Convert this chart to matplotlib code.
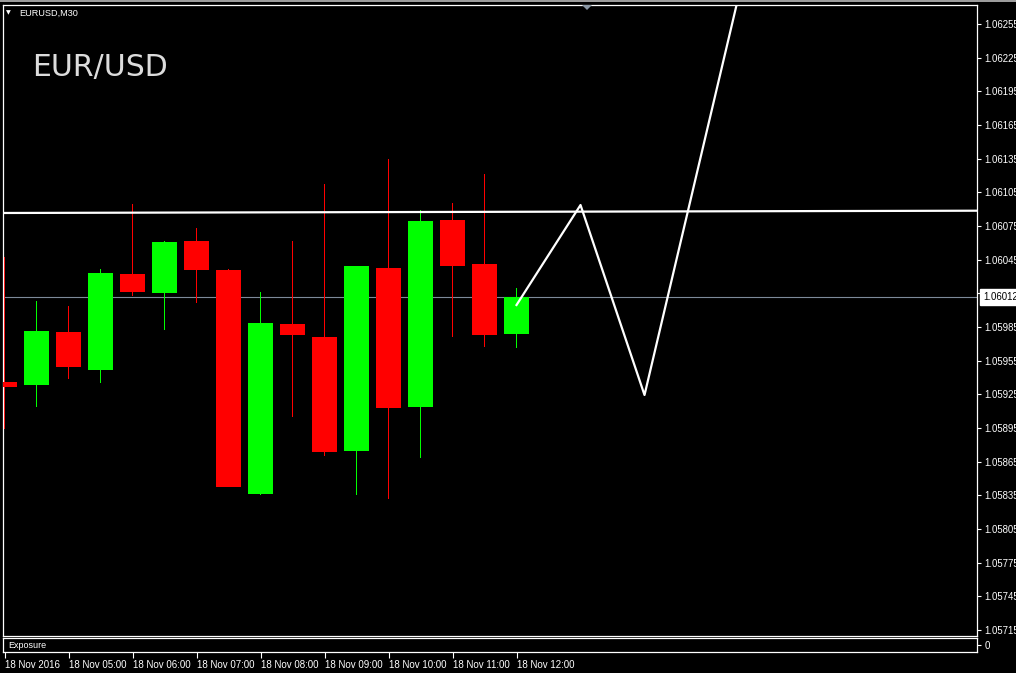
import matplotlib
matplotlib.use('Agg')
import numpy as np
import matplotlib.pyplot as plt
from matplotlib import font_manager as fm
from matplotlib.patches import Rectangle, Polygon

plt.rcParams['font.family'] = ['Liberation Sans', 'DejaVu Sans']

# EURUSD M30 candles, 18 Nov 2016 04:00 .. 12:00
opens = [1.059363, 1.059336, 1.059805, 1.059470, 1.060322, 1.060156, 1.060616, 1.060358, 1.058365,
         1.059877, 1.059761, 1.058748, 1.060376, 1.059140, 1.060803, 1.060411, 1.059790]
highs = [1.060476, 1.060082, 1.060037, 1.060367, 1.060946, 1.060616, 1.060732, 1.060367, 1.060162,
         1.060616, 1.061124, 1.060398, 1.061347, 1.060893, 1.060955, 1.061213, 1.060198]
lows = [1.058941, 1.059140, 1.059387, 1.059354, 1.060126, 1.059826, 1.060067, 1.058420, 1.058356,
        1.059051, 1.058703, 1.058356, 1.058320, 1.058685, 1.059764, 1.059674, 1.059666]
closes = [1.059315, 1.059814, 1.059496, 1.060331, 1.060165, 1.060607, 1.060361, 1.058427, 1.059886,
          1.059779, 1.058739, 1.060394, 1.059131, 1.060795, 1.060394, 1.059781, 1.060120]

# projected zigzag path (bar index, price)
zigzag_x = [16, 18, 20, 23]
zigzag_y = [1.060046, 1.060937, 1.059244, 1.062869]

# slightly sloped resistance line
trend_x = [0, 30]
trend_y = [1.060866, 1.060886]

time_ticks = [0, 2, 4, 6, 8, 10, 12, 14, 16]
time_labels = ['18 Nov 2016', '18 Nov 05:00', '18 Nov 06:00', '18 Nov 07:00', '18 Nov 08:00',
               '18 Nov 09:00', '18 Nov 10:00', '18 Nov 11:00', '18 Nov 12:00']
price_ticks = [1.05715, 1.05745, 1.05775, 1.05805, 1.05835, 1.05865, 1.05895, 1.05925, 1.05955,
               1.05985, 1.06015, 1.06045, 1.06075, 1.06105, 1.06135, 1.06165, 1.06195, 1.06225, 1.06255]

W, H = 1016, 673
fig = plt.figure(figsize=(W / 100, H / 100), dpi=100, facecolor='black')


def fx(px):
    return px / W


def fy(py):
    return 1 - py / H


xlim = (-0.047, 30.39)

ax = fig.add_axes([fx(3), fy(636), fx(977) - fx(3), fy(5) - fy(636)])
ax.set_facecolor('black')
ax.set_xlim(*xlim)
ax.set_ylim(1.0570965, 1.0627193)

x = np.arange(len(opens))
o = np.array(opens)
c = np.array(closes)
hi = np.array(highs)
lo = np.array(lows)
cols = np.where(c >= o, '#00ff00', '#ff0000')
# wicks as 1-pixel wide bars (one bar slot is 32 px)
ax.bar(x, hi - lo, bottom=lo, width=1.05 / 32, color=cols, linewidth=0, antialiased=False, zorder=2)
ax.bar(x, np.abs(c - o), bottom=np.minimum(o, c), width=0.78, color=cols, linewidth=0,
       antialiased=False, zorder=3)

ax.axhline(closes[-1], color='#7d8a99', lw=0.8, zorder=1)
ax.axline((trend_x[0], trend_y[0]), (trend_x[1], trend_y[1]), color='white', lw=1.6, zorder=4)
ax.plot(zigzag_x, zigzag_y, color='white', lw=1.6, zorder=5)

for s in ax.spines.values():
    s.set_color('white')
    s.set_linewidth(0.9)
ax.set_xticks([])
ax.yaxis.tick_right()
# the label hidden under the current-price box is left blank
price_labels = ['' if abs(v - closes[-1]) < 0.00008 else f'{v:.5f}' for v in price_ticks]
ax.set_yticks(price_ticks, price_labels)
ax.tick_params(axis='y', colors='white', length=3, width=0.8, pad=2.5, labelsize=6.9)

ax.annotate(f'{closes[-1]:.5f}', xy=(1, closes[-1]), xycoords=('axes fraction', 'data'),
            xytext=(4.5, 0), textcoords='offset points', va='center', ha='left',
            color='black', fontsize=6.9, annotation_clip=False, zorder=10,
            bbox=dict(boxstyle='square,pad=0.3', fc='white', ec='white'))

# exposure sub-window
ax2 = fig.add_axes([fx(3), fy(652), fx(977) - fx(3), fy(638) - fy(652)])
ax2.set_facecolor('black')
ax2.set_xlim(*xlim)
ax2.set_ylim(0, 1)
for s in ax2.spines.values():
    s.set_color('white')
    s.set_linewidth(0.9)
ax2.yaxis.tick_right()
ax2.set_yticks([0.5], ['0'])
ax2.tick_params(axis='y', colors='white', length=3, width=0.8, pad=2.5, labelsize=7)
ax2.set_xticks(time_ticks, time_labels)
for lbl in ax2.get_xticklabels():
    lbl.set_horizontalalignment('left')
ax2.tick_params(axis='x', colors='white', length=4, width=0.8, pad=1.5, labelsize=7)
fig.text(fx(8), fy(646), 'Exposure', color='white', fontsize=6.5, va='center', ha='left')

# title texts
names = {f.name for f in fm.fontManager.ttflist}
big_family = 'Liberation Sans Narrow' if 'Liberation Sans Narrow' in names else 'DejaVu Sans'
big_size = 26 if big_family == 'Liberation Sans Narrow' else 21.5
fig.text(fx(32), fy(76), 'EUR/USD', color='#dcdcdc', fontsize=big_size, family=big_family,
         va='baseline', ha='left')
fig.text(fx(6), fy(13), '\u25bc', color='white', fontsize=4.5, family='DejaVu Sans', va='center', ha='left')
fig.text(fx(19), fy(13), 'EURUSD,M30', color='white', fontsize=6.6, va='center', ha='left')

# window chrome
fig.add_artist(Rectangle((0, fy(2)), 1, 2 / H, transform=fig.transFigure, color='#9c9c9c', lw=0))
fig.add_artist(Polygon([[fx(582), fy(5)], [fx(592), fy(5)], [fx(587), fy(10)]], closed=True,
                       transform=fig.transFigure, color='#8a97a4', lw=0))

fig.savefig('out.png', dpi=100, facecolor='black')
